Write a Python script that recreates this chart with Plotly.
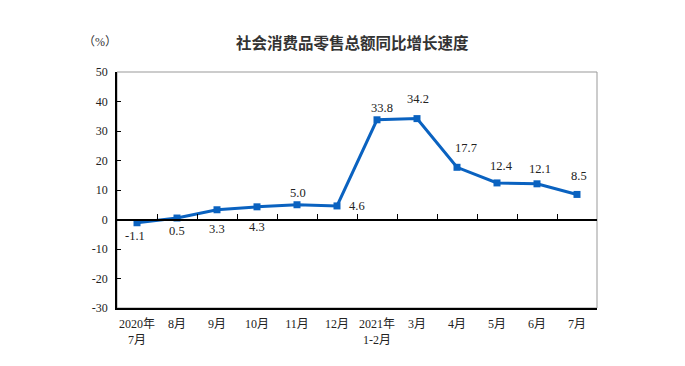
import plotly.graph_objects as go

categories = ["2020年<br>7月", "8月", "9月", "10月", "11月", "12月", "2021年<br>1-2月",
              "3月", "4月", "5月", "6月", "7月"]
values = [-1.1, 0.5, 3.3, 4.3, 5.0, 4.6, 33.8, 34.2, 17.7, 12.4, 12.1, 8.5]
label_text = ["-1.1", "0.5", "3.3", "4.3", "5.0", "4.6", "33.8", "34.2", "17.7", "12.4", "12.1", "8.5"]
y_ticks = [50, 40, 30, 20, 10, 0, -10, -20, -30]
y_tick_text = ["50", "40", "30", "20", "10", "0", "-10", "-20", "-30"]

# label offsets in pixels (style)
label_dx = [-2, 0, 0, 0, 1, 20, 5, 1, 9, 4, 3, 2]
label_dy = [-13, -13, -19, -20, 12, 0, 12, 20, 19, 17, 15, 18]

xs = list(range(len(categories)))
line_color = "#0A62C0"
serif = "Liberation Serif, Noto Sans CJK SC, serif"

fig = go.Figure()
fig.add_trace(go.Scatter(
    x=xs, y=values, mode="lines+markers",
    line=dict(color=line_color, width=3),
    marker=dict(symbol="square", size=7, color=line_color),
    hoverinfo="skip", showlegend=False,
))
# axis carrying tick marks on the zero line
fig.add_trace(go.Scatter(x=[xs[0]], y=[values[0]], xaxis="x2", mode="markers",
                         marker=dict(opacity=0), hoverinfo="skip", showlegend=False))

for i, (v, t) in enumerate(zip(values, label_text)):
    fig.add_annotation(x=xs[i], y=v, text=t, showarrow=False,
                       xshift=label_dx[i], yshift=label_dy[i],
                       font=dict(family=serif, size=12.5, color="#222"))

fig.add_annotation(xref="paper", yref="paper", x=0.49, y=1.0, yshift=30,
                   text="<b>社会消费品零售总额同比增长速度</b>", showarrow=False,
                   xanchor="center", yanchor="middle",
                   font=dict(family="Noto Sans CJK SC", size=15.5, color="#333"))
fig.add_annotation(xref="paper", yref="paper", x=0, y=1.0, xshift=-17, yshift=30,
                   text="（%）", showarrow=False, xanchor="center", yanchor="middle",
                   font=dict(family=serif, size=12, color="#333"))

# frame (gray top/right)
fig.add_shape(type="rect", xref="paper", yref="paper", x0=0, x1=1, y0=0, y1=1,
              line=dict(color="#999", width=1), layer="below")

n = len(categories)
fig.update_layout(
    template="none",
    width=677, height=358,
    margin=dict(l=109, r=88, t=64, b=58),
    plot_bgcolor="white", paper_bgcolor="white",
    xaxis=dict(range=[-0.5, n - 0.5], tickmode="array", tickvals=xs, ticktext=categories,
               showline=True, linecolor="black", linewidth=1.5, ticks="",
               ticklabelstandoff=4,
               showgrid=False, zeroline=False, automargin=False,
               tickfont=dict(family=serif, size=12, color="#222")),
    xaxis2=dict(range=[-0.5, n - 0.5], overlaying="x", anchor="free",
                position=(0 - y_ticks[-1]) / (y_ticks[0] - y_ticks[-1]),
                tickmode="array", tickvals=[k + 0.5 for k in xs], showticklabels=False,
                ticks="inside", ticklen=5, tickcolor="black", tickwidth=1,
                showline=True, linecolor="black", linewidth=1.5, showgrid=False,
                zeroline=False, automargin=False),
    yaxis=dict(range=[y_ticks[-1], y_ticks[0]], tickmode="array", tickvals=y_ticks,
               ticktext=y_tick_text, ticklabelstandoff=5,
               showline=True, linecolor="black", linewidth=1.5, ticks="inside",
               ticklen=4, tickcolor="black", showgrid=False, zeroline=False,
               automargin=False,
               tickfont=dict(family=serif, size=12, color="#222")),
)

fig.write_html("out.html")
